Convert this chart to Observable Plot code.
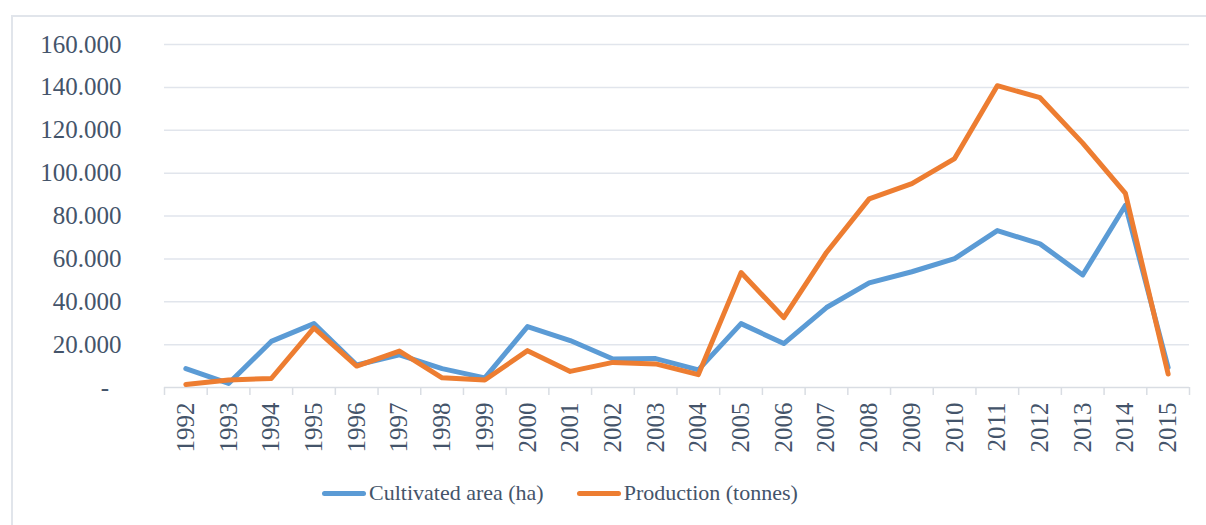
<!DOCTYPE html>
<html>
<head>
<meta charset="utf-8">
<script src="https://cdn.jsdelivr.net/npm/d3@7"></script>
<script src="https://cdn.jsdelivr.net/npm/@observablehq/plot@0.6"></script>
<style>
  html, body { margin: 0; padding: 0; background: #fff; width: 1206px; height: 525px; overflow: hidden; }
  #frame { position: absolute; left: 11px; top: 15px; width: 1400px; height: 700px; border: 2px solid #e1e5eb; box-sizing: border-box; }
  #chart { position: absolute; left: 0; top: 0; }
  #legend { position: absolute; left: 322px; top: 480px; display: flex; align-items: center; font-family: "Liberation Serif", serif; font-size: 22px; color: #44546a; }
  .sw { width: 44px; height: 5px; border-radius: 3px; margin-right: 3px; }
  .item { display: flex; align-items: center; }
</style>
</head>
<body>
<div id="frame"></div>
<div id="chart"></div>
<div id="legend"></div>
<script>
const years = [1992,1993,1994,1995,1996,1997,1998,1999,2000,2001,2002,2003,2004,2005,2006,2007,2008,2009,2010,2011,2012,2013,2014,2015];
const area = [8800,1900,21500,29800,10500,15200,8800,4500,28400,21900,13300,13500,8200,29800,20500,37300,48800,54000,60100,73200,67000,52500,85000,9300];
const production = [1400,3500,4200,27800,10000,17000,4500,3500,17200,7500,11700,11000,6000,53600,32600,63000,88000,95100,106800,140800,135200,114000,90500,6300];
const seriesNames = ["Cultivated area (ha)", "Production (tonnes)"];
const seriesColors = ["#5b9bd5", "#ed7d31"];
const yTicks = [0,20000,40000,60000,80000,100000,120000,140000,160000];

const rows = [];
years.forEach((yr, i) => {
  rows.push({year: yr, value: area[i], series: seriesNames[0]});
});
years.forEach((yr, i) => {
  rows.push({year: yr, value: production[i], series: seriesNames[1]});
});
const boundaries = years.map(y => y - 0.5).concat([years[years.length - 1] + 0.5]);
const fmtY = d => d === 0 ? "-\u00a0\u00a0" : d3.format(",")(d).replace(/,/g, ".");

const chart = Plot.plot({
  width: 1206,
  height: 470,
  marginTop: 44,
  marginBottom: 83,
  marginLeft: 164,
  marginRight: 17,
  style: {fontFamily: "'Liberation Serif', serif", fontSize: "25px", color: "#44546a", background: "transparent"},
  x: {type: "linear", domain: [boundaries[0], boundaries[boundaries.length - 1]]},
  y: {domain: [0, 160000]},
  color: {domain: seriesNames, range: seriesColors},
  marks: [
    Plot.ruleY(yTicks.filter(d => d > 0), {stroke: "#e1e5ec", strokeWidth: 1.5}),
    Plot.ruleY([0], {stroke: "#d9dde3", strokeWidth: 1.5}),
    Plot.axisX({ticks: boundaries, tickSize: 8, tickFormat: () => "", stroke: "#d9dde3", strokeWidth: 1.5, label: null}),
    Plot.axisX({ticks: years, tickSize: 0, tickPadding: 15, tickRotate: -90, tickFormat: d => String(d), label: null}),
    Plot.axisY({ticks: yTicks, tickSize: 0, tickPadding: 43, tickFormat: fmtY, label: null}),
    Plot.line(rows, {x: "year", y: "value", z: "series", stroke: "series", strokeWidth: 5, strokeLinejoin: "round", strokeLinecap: "round"})
  ]
});
document.getElementById("chart").appendChild(chart);

const legend = document.getElementById("legend");
seriesNames.forEach((name, i) => {
  const item = document.createElement("div");
  item.className = "item";
  if (i > 0) item.style.marginLeft = "33px";
  const sw = document.createElement("div");
  sw.className = "sw";
  sw.style.background = seriesColors[i];
  const t = document.createElement("span");
  t.textContent = name;
  item.appendChild(sw);
  item.appendChild(t);
  legend.appendChild(item);
});
</script>
</body>
</html>
